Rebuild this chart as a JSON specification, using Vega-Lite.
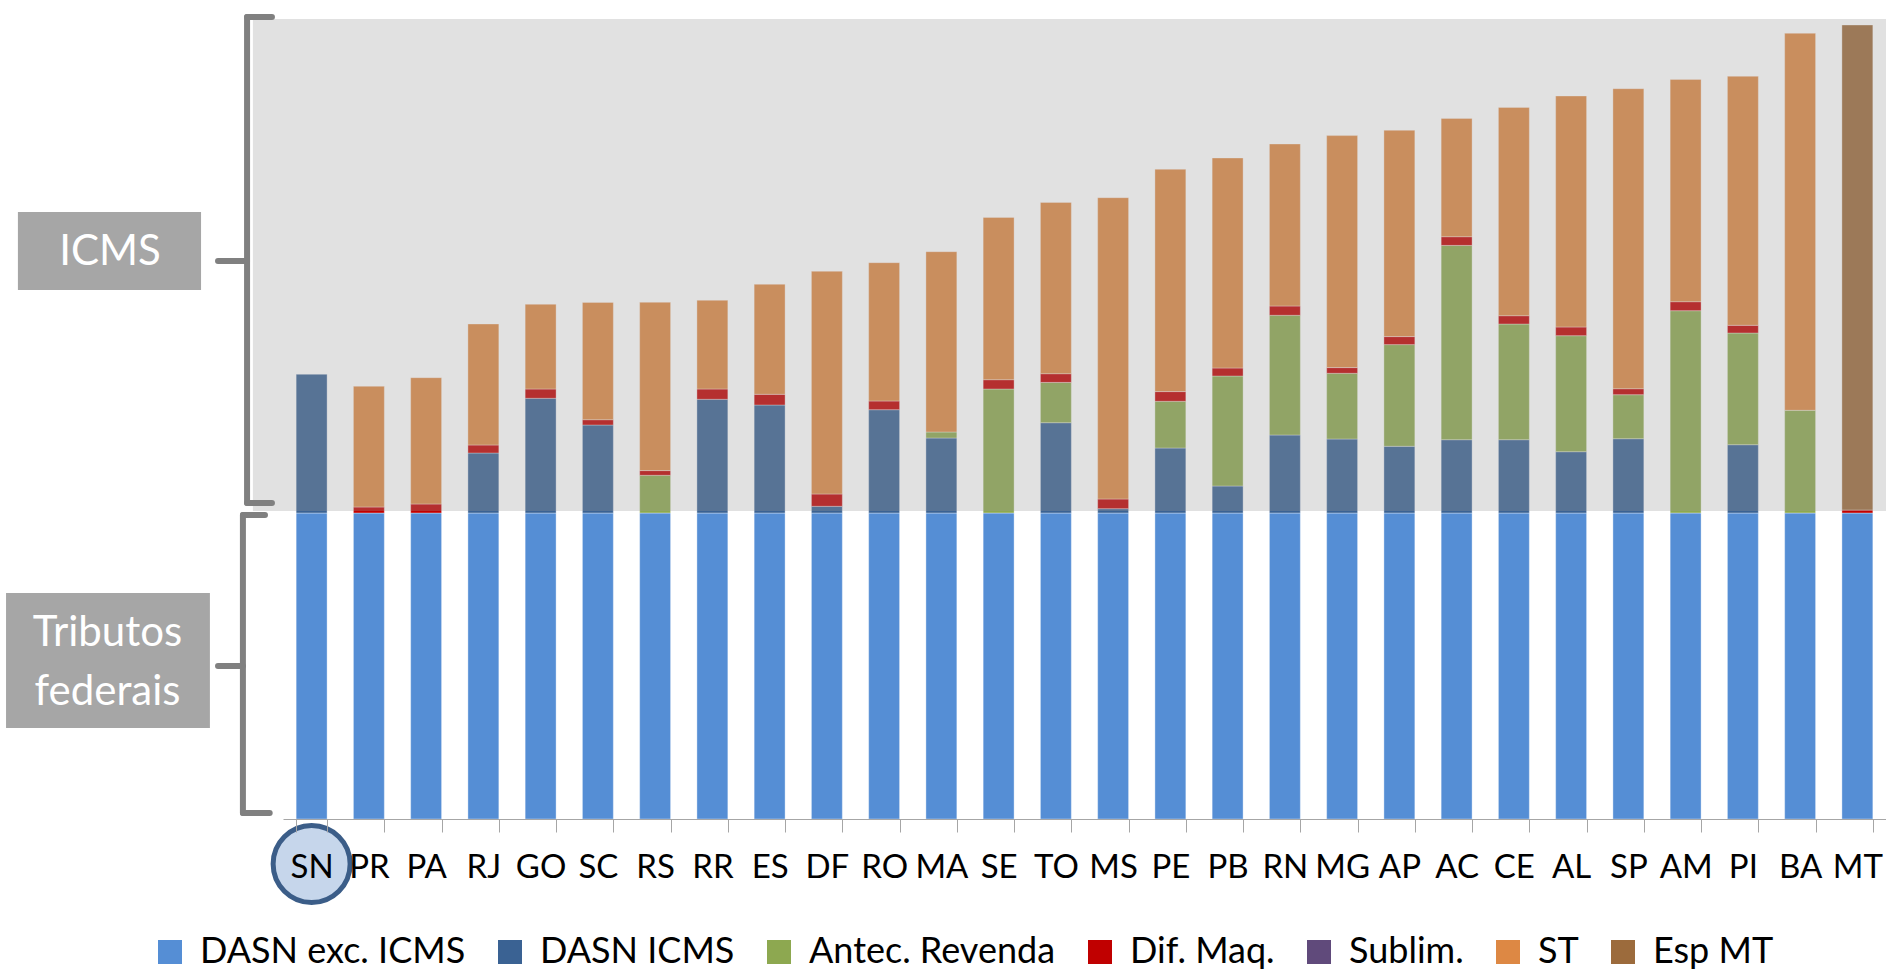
{
  "$schema": "https://vega.github.io/schema/vega-lite/v6.json",
  "width": 1886,
  "height": 800,
  "autosize": {"type": "none"},
  "padding": {"left": 0, "top": 19, "right": 0, "bottom": 154},
  "background": "#ffffff",
  "config": {
    "view": {"stroke": null},
    "axis": {"labelFont": "Lato", "titleFont": "Lato"},
    "legend": {"labelFont": "Lato", "titleFont": "Lato"},
    "text": {"font": "Lato"}
  },
  "datasets": {
    "bars": [
      {"uf": "SN", "serie": "DASN exc. ICMS", "v": 306}, {"uf": "SN", "serie": "DASN ICMS", "v": 138.7},
      {"uf": "PR", "serie": "DASN exc. ICMS", "v": 306}, {"uf": "PR", "serie": "Dif. Maq.", "v": 6}, {"uf": "PR", "serie": "ST", "v": 120.7},
      {"uf": "PA", "serie": "DASN exc. ICMS", "v": 306}, {"uf": "PA", "serie": "Dif. Maq.", "v": 9}, {"uf": "PA", "serie": "ST", "v": 126.3},
      {"uf": "RJ", "serie": "DASN exc. ICMS", "v": 306}, {"uf": "RJ", "serie": "DASN ICMS", "v": 60}, {"uf": "RJ", "serie": "Dif. Maq.", "v": 8}, {"uf": "RJ", "serie": "ST", "v": 121},
      {"uf": "GO", "serie": "DASN exc. ICMS", "v": 306}, {"uf": "GO", "serie": "DASN ICMS", "v": 114.7}, {"uf": "GO", "serie": "Dif. Maq.", "v": 9.3}, {"uf": "GO", "serie": "ST", "v": 84.7},
      {"uf": "SC", "serie": "DASN exc. ICMS", "v": 306}, {"uf": "SC", "serie": "DASN ICMS", "v": 88}, {"uf": "SC", "serie": "Dif. Maq.", "v": 5.3}, {"uf": "SC", "serie": "ST", "v": 117.3},
      {"uf": "RS", "serie": "DASN exc. ICMS", "v": 306}, {"uf": "RS", "serie": "Antec. Revenda", "v": 37.7}, {"uf": "RS", "serie": "Dif. Maq.", "v": 4.7}, {"uf": "RS", "serie": "ST", "v": 168.3},
      {"uf": "RR", "serie": "DASN exc. ICMS", "v": 306}, {"uf": "RR", "serie": "DASN ICMS", "v": 113.7}, {"uf": "RR", "serie": "Dif. Maq.", "v": 10.3}, {"uf": "RR", "serie": "ST", "v": 88.7},
      {"uf": "ES", "serie": "DASN exc. ICMS", "v": 306}, {"uf": "ES", "serie": "DASN ICMS", "v": 108}, {"uf": "ES", "serie": "Dif. Maq.", "v": 10.7}, {"uf": "ES", "serie": "ST", "v": 110},
      {"uf": "DF", "serie": "DASN exc. ICMS", "v": 306}, {"uf": "DF", "serie": "DASN ICMS", "v": 6.7}, {"uf": "DF", "serie": "Dif. Maq.", "v": 12.3}, {"uf": "DF", "serie": "ST", "v": 222.7},
      {"uf": "RO", "serie": "DASN exc. ICMS", "v": 306}, {"uf": "RO", "serie": "DASN ICMS", "v": 103.3}, {"uf": "RO", "serie": "Dif. Maq.", "v": 8.7}, {"uf": "RO", "serie": "ST", "v": 138.3},
      {"uf": "MA", "serie": "DASN exc. ICMS", "v": 306}, {"uf": "MA", "serie": "DASN ICMS", "v": 75}, {"uf": "MA", "serie": "Antec. Revenda", "v": 6}, {"uf": "MA", "serie": "ST", "v": 180.3},
      {"uf": "SE", "serie": "DASN exc. ICMS", "v": 306}, {"uf": "SE", "serie": "Antec. Revenda", "v": 124}, {"uf": "SE", "serie": "Dif. Maq.", "v": 9.3}, {"uf": "SE", "serie": "ST", "v": 162.3},
      {"uf": "TO", "serie": "DASN exc. ICMS", "v": 306}, {"uf": "TO", "serie": "DASN ICMS", "v": 90.3}, {"uf": "TO", "serie": "Antec. Revenda", "v": 40.3}, {"uf": "TO", "serie": "Dif. Maq.", "v": 8.7}, {"uf": "TO", "serie": "ST", "v": 171.3},
      {"uf": "MS", "serie": "DASN exc. ICMS", "v": 306}, {"uf": "MS", "serie": "DASN ICMS", "v": 4.3}, {"uf": "MS", "serie": "Dif. Maq.", "v": 9.7}, {"uf": "MS", "serie": "ST", "v": 301.3},
      {"uf": "PE", "serie": "DASN exc. ICMS", "v": 306}, {"uf": "PE", "serie": "DASN ICMS", "v": 65}, {"uf": "PE", "serie": "Antec. Revenda", "v": 46.7}, {"uf": "PE", "serie": "Dif. Maq.", "v": 9.7}, {"uf": "PE", "serie": "ST", "v": 222.3},
      {"uf": "PB", "serie": "DASN exc. ICMS", "v": 306}, {"uf": "PB", "serie": "DASN ICMS", "v": 27}, {"uf": "PB", "serie": "Antec. Revenda", "v": 110}, {"uf": "PB", "serie": "Dif. Maq.", "v": 8}, {"uf": "PB", "serie": "ST", "v": 210},
      {"uf": "RN", "serie": "DASN exc. ICMS", "v": 306}, {"uf": "RN", "serie": "DASN ICMS", "v": 78}, {"uf": "RN", "serie": "Antec. Revenda", "v": 119.7}, {"uf": "RN", "serie": "Dif. Maq.", "v": 9.3}, {"uf": "RN", "serie": "ST", "v": 162},
      {"uf": "MG", "serie": "DASN exc. ICMS", "v": 306}, {"uf": "MG", "serie": "DASN ICMS", "v": 74}, {"uf": "MG", "serie": "Antec. Revenda", "v": 65.7}, {"uf": "MG", "serie": "Dif. Maq.", "v": 5.7}, {"uf": "MG", "serie": "ST", "v": 232},
      {"uf": "AP", "serie": "DASN exc. ICMS", "v": 306}, {"uf": "AP", "serie": "DASN ICMS", "v": 66.7}, {"uf": "AP", "serie": "Antec. Revenda", "v": 101.7}, {"uf": "AP", "serie": "Dif. Maq.", "v": 8}, {"uf": "AP", "serie": "ST", "v": 206.3},
      {"uf": "AC", "serie": "DASN exc. ICMS", "v": 306}, {"uf": "AC", "serie": "DASN ICMS", "v": 73.3}, {"uf": "AC", "serie": "Antec. Revenda", "v": 194.3}, {"uf": "AC", "serie": "Dif. Maq.", "v": 8.7}, {"uf": "AC", "serie": "ST", "v": 118.3},
      {"uf": "CE", "serie": "DASN exc. ICMS", "v": 306}, {"uf": "CE", "serie": "DASN ICMS", "v": 73.3}, {"uf": "CE", "serie": "Antec. Revenda", "v": 115.7}, {"uf": "CE", "serie": "Dif. Maq.", "v": 8.3}, {"uf": "CE", "serie": "ST", "v": 208.3},
      {"uf": "AL", "serie": "DASN exc. ICMS", "v": 306}, {"uf": "AL", "serie": "DASN ICMS", "v": 61.3}, {"uf": "AL", "serie": "Antec. Revenda", "v": 116}, {"uf": "AL", "serie": "Dif. Maq.", "v": 8.7}, {"uf": "AL", "serie": "ST", "v": 231},
      {"uf": "SP", "serie": "DASN exc. ICMS", "v": 306}, {"uf": "SP", "serie": "DASN ICMS", "v": 74.3}, {"uf": "SP", "serie": "Antec. Revenda", "v": 44}, {"uf": "SP", "serie": "Dif. Maq.", "v": 6}, {"uf": "SP", "serie": "ST", "v": 300},
      {"uf": "AM", "serie": "DASN exc. ICMS", "v": 306}, {"uf": "AM", "serie": "Antec. Revenda", "v": 202.3}, {"uf": "AM", "serie": "Dif. Maq.", "v": 9}, {"uf": "AM", "serie": "ST", "v": 222.3},
      {"uf": "PI", "serie": "DASN exc. ICMS", "v": 306}, {"uf": "PI", "serie": "DASN ICMS", "v": 68.3}, {"uf": "PI", "serie": "Antec. Revenda", "v": 111.7}, {"uf": "PI", "serie": "Dif. Maq.", "v": 7.7}, {"uf": "PI", "serie": "ST", "v": 249},
      {"uf": "BA", "serie": "DASN exc. ICMS", "v": 306}, {"uf": "BA", "serie": "Antec. Revenda", "v": 102.7}, {"uf": "BA", "serie": "ST", "v": 377},
      {"uf": "MT", "serie": "DASN exc. ICMS", "v": 306}, {"uf": "MT", "serie": "Dif. Maq.", "v": 3}, {"uf": "MT", "serie": "Esp MT", "v": 485}
    ]
  },
  "layer": [
    {
      "data": {"name": "bars"},
      "transform": [
        {"calculate": "indexof(['DASN exc. ICMS','DASN ICMS','Antec. Revenda','Dif. Maq.','Sublim.','ST','Esp MT'], datum.serie)", "as": "k"}
      ],
      "layer": [
        {
          "mark": {"type": "bar", "stroke": "#ffffff", "strokeWidth": 1, "strokeOpacity": 0.35},
          "encoding": {
            "x": {
              "field": "uf", "type": "nominal",
              "sort": ["SN","PR","PA","RJ","GO","SC","RS","RR","ES","DF","RO","MA","SE","TO","MS","PE","PB","RN","MG","AP","AC","CE","AL","SP","AM","PI","BA","MT"],
              "scale": {"range": [283, 1886], "paddingInner": 0.46, "paddingOuter": 0.23},
              "axis": {
                "title": null, "orient": "bottom", "labelAngle": 0,
                "labelFontSize": 33, "labelColor": "#000000", "labelPadding": 19,
                "tickSize": 13, "tickColor": "#A6A6A6", "tickWidth": 1,
                "domainColor": "#A6A6A6", "domainWidth": 1,
                "tickBand": "extent", "grid": false, "zindex": 1
              }
            },
            "y": {"field": "v", "type": "quantitative", "stack": "zero", "scale": {"domain": [0, 800]}, "axis": null},
            "color": {
              "field": "serie", "type": "nominal",
              "scale": {
                "domain": ["DASN exc. ICMS","DASN ICMS","Antec. Revenda","Dif. Maq.","Sublim.","ST","Esp MT"],
                "range": ["#558ED5","#3A6293","#8DA850","#C00000","#604A7B","#DD8844","#9C6B3C"]
              },
              "legend": {
                "title": null, "orient": "none", "legendX": 152, "legendY": 915,
                "direction": "horizontal", "columns": 7, "padding": 0,
                "symbolType": "square", "symbolSize": 576, "symbolStrokeWidth": 0,
                "labelFontSize": 36, "labelColor": "#000000", "labelOffset": 12,
                "labelLimit": 500, "columnPadding": 26
              }
            },
            "order": {"field": "k", "type": "quantitative"}
          }
        },
        {
          "transform": [{"filter": "datum.uf === 'SN' && datum.serie === 'DASN exc. ICMS'"}],
          "mark": {"type": "point", "shape": "circle", "filled": true, "size": 5929, "fill": "#C6D6EB", "stroke": "#3B5D88", "strokeWidth": 5, "opacity": 1},
          "encoding": {
            "x": {"field": "uf", "type": "nominal", "sort": ["SN","PR","PA","RJ","GO","SC","RS","RR","ES","DF","RO","MA","SE","TO","MS","PE","PB","RN","MG","AP","AC","CE","AL","SP","AM","PI","BA","MT"]},
            "y": {"datum": -45, "type": "quantitative", "axis": null}
          }
        }
      ]
    },
    {
      "data": {"values": [{}]},
      "layer": [
        {
          "mark": {"type": "rect", "fill": "#9B9B9B", "fillOpacity": 0.3},
          "encoding": {
            "x": {"datum": 13.41, "type": "quantitative", "scale": {"domain": [0, 100]}, "axis": null},
            "x2": {"datum": 100},
            "y": {"datum": 308, "type": "quantitative", "axis": null},
            "y2": {"datum": 800}
          }
        },
        {
          "mark": {"type": "rule", "stroke": "#808080", "strokeWidth": 6, "strokeCap": "round"},
          "encoding": {
            "x": {"datum": 13.1, "type": "quantitative", "scale": {"domain": [0, 100]}, "axis": null},
            "y": {"datum": 316, "type": "quantitative", "axis": null},
            "y2": {"datum": 802}
          }
        },
        {
          "mark": {"type": "rule", "stroke": "#808080", "strokeWidth": 6, "strokeCap": "round"},
          "encoding": {
            "x": {"datum": 13.1, "type": "quantitative", "scale": {"domain": [0, 100]}, "axis": null},
            "x2": {"datum": 14.42},
            "y": {"datum": 802, "type": "quantitative", "axis": null}
          }
        },
        {
          "mark": {"type": "rule", "stroke": "#808080", "strokeWidth": 6, "strokeCap": "round"},
          "encoding": {
            "x": {"datum": 13.1, "type": "quantitative", "scale": {"domain": [0, 100]}, "axis": null},
            "x2": {"datum": 14.42},
            "y": {"datum": 316, "type": "quantitative", "axis": null}
          }
        },
        {
          "mark": {"type": "rule", "stroke": "#808080", "strokeWidth": 6, "strokeCap": "round"},
          "encoding": {
            "x": {"datum": 11.56, "type": "quantitative", "scale": {"domain": [0, 100]}, "axis": null},
            "x2": {"datum": 13.1},
            "y": {"datum": 558, "type": "quantitative", "axis": null}
          }
        },
        {
          "mark": {"type": "rule", "stroke": "#808080", "strokeWidth": 6, "strokeCap": "round"},
          "encoding": {
            "x": {"datum": 12.88, "type": "quantitative", "scale": {"domain": [0, 100]}, "axis": null},
            "y": {"datum": 6, "type": "quantitative", "axis": null},
            "y2": {"datum": 304}
          }
        },
        {
          "mark": {"type": "rule", "stroke": "#808080", "strokeWidth": 6, "strokeCap": "round"},
          "encoding": {
            "x": {"datum": 12.88, "type": "quantitative", "scale": {"domain": [0, 100]}, "axis": null},
            "x2": {"datum": 14.05},
            "y": {"datum": 304, "type": "quantitative", "axis": null}
          }
        },
        {
          "mark": {"type": "rule", "stroke": "#808080", "strokeWidth": 6, "strokeCap": "round"},
          "encoding": {
            "x": {"datum": 12.88, "type": "quantitative", "scale": {"domain": [0, 100]}, "axis": null},
            "x2": {"datum": 14.3},
            "y": {"datum": 6, "type": "quantitative", "axis": null}
          }
        },
        {
          "mark": {"type": "rule", "stroke": "#808080", "strokeWidth": 6, "strokeCap": "round"},
          "encoding": {
            "x": {"datum": 11.56, "type": "quantitative", "scale": {"domain": [0, 100]}, "axis": null},
            "x2": {"datum": 12.88},
            "y": {"datum": 153, "type": "quantitative", "axis": null}
          }
        },
        {
          "mark": {"type": "rect", "fill": "#A6A6A6"},
          "encoding": {
            "x": {"datum": 0.95, "type": "quantitative", "scale": {"domain": [0, 100]}, "axis": null},
            "x2": {"datum": 10.66},
            "y": {"datum": 529, "type": "quantitative", "axis": null},
            "y2": {"datum": 607}
          }
        },
        {
          "mark": {"type": "rect", "fill": "#A6A6A6"},
          "encoding": {
            "x": {"datum": 0.32, "type": "quantitative", "scale": {"domain": [0, 100]}, "axis": null},
            "x2": {"datum": 11.13},
            "y": {"datum": 91, "type": "quantitative", "axis": null},
            "y2": {"datum": 226}
          }
        },
        {
          "mark": {"type": "text", "fontSize": 42, "color": "#FFFFFF", "align": "center", "baseline": "middle"},
          "encoding": {
            "x": {"datum": 5.83, "type": "quantitative", "scale": {"domain": [0, 100]}, "axis": null},
            "y": {"datum": 567, "type": "quantitative", "axis": null},
            "text": {"value": "ICMS"}
          }
        },
        {
          "mark": {"type": "text", "fontSize": 42, "color": "#FFFFFF", "align": "center", "baseline": "middle", "lineHeight": 59},
          "encoding": {
            "x": {"datum": 5.7, "type": "quantitative", "scale": {"domain": [0, 100]}, "axis": null},
            "y": {"datum": 186, "type": "quantitative", "axis": null},
            "text": {"value": ["Tributos", "federais"]}
          }
        }
      ]
    }
  ],
  "resolve": {"scale": {"x": "independent"}}
}
